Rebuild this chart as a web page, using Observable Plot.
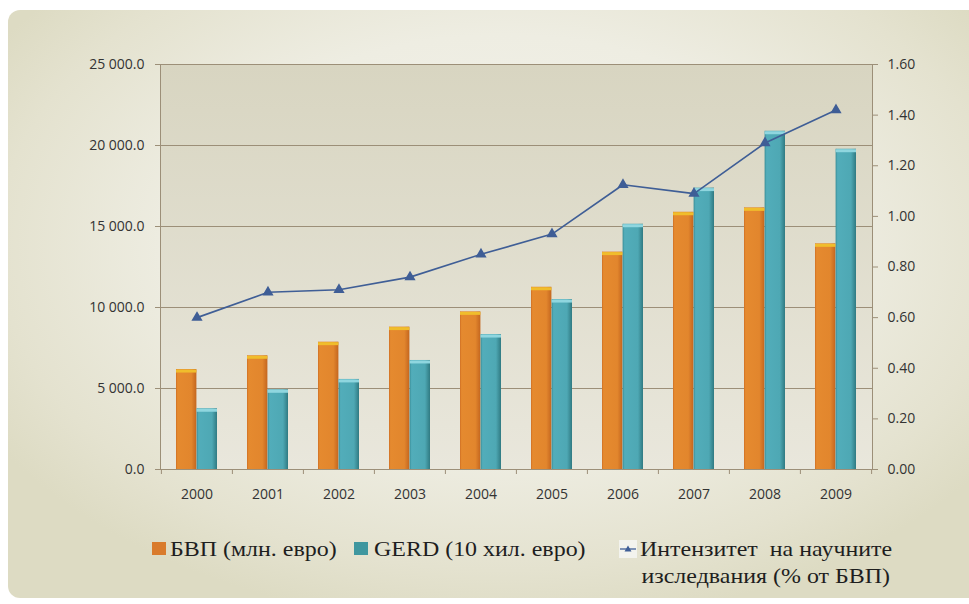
<!DOCTYPE html>
<html><head><meta charset="utf-8">
<script src="https://cdn.jsdelivr.net/npm/d3@7"></script>
<script src="https://cdn.jsdelivr.net/npm/@observablehq/plot@0.6"></script>
<style>
html,body{margin:0;padding:0;background:#fff;}
body{width:969px;height:604px;overflow:hidden;position:relative;}
#frame{position:absolute;left:8px;top:10px;width:990px;height:588px;border-radius:12px;
 background:radial-gradient(ellipse 60% 65% at 50% 40%, #f4f3ec 0%, #eeede2 55%, #e4e2cf 85%, #dddbc3 100%);}
#chart{position:absolute;left:0;top:0;width:969px;height:515px;}
#chart svg{position:absolute;left:0;top:0;overflow:visible;}
.lg{position:absolute;font-family:"Liberation Serif","DejaVu Serif",serif;font-size:21px;color:#1e1e1e;white-space:nowrap;line-height:22px;transform:scaleX(1.14);transform-origin:left center;}
.lg.r{transform-origin:right center;}
.sw{position:absolute;width:14px;height:13px;}
</style></head><body>
<div id="frame"></div>
<div id="chart"></div>
<div class="sw" style="left:152px;top:542px;background:#d97b2c;"></div>
<div class="lg" style="left:170px;top:538px;">БВП (млн. евро)</div>
<div class="sw" style="left:354px;top:542px;background:#3f979f;"></div>
<div class="lg" style="left:374px;top:538px;">GERD (10 хил. евро)</div>
<svg style="position:absolute;left:619px;top:540px" width="18" height="18"><rect x="0" y="0" width="18" height="18" fill="#f3f3ee"/><line x1="1" y1="9" x2="17" y2="9" stroke="#3f5e96" stroke-width="1.3"/><path d="M9,5.5 L12.5,11.5 L5.5,11.5Z" fill="#3f5e96"/></svg>
<div class="lg" style="left:640px;top:538px;">Интензитет&nbsp; на научните</div>
<div class="lg r" style="right:79px;top:565px;text-align:right;">изследвания (% от БВП)</div>
<script>
const years = ["2000","2001","2002","2003","2004","2005","2006","2007","2008","2009"];
const gdp = [6170, 7020, 7860, 8790, 9730, 11250, 13420, 15880, 16150, 13930];
const gerd = [3750, 4920, 5560, 6730, 8330, 10490, 15140, 17370, 20880, 19770];
const intensity = [0.60, 0.70, 0.71, 0.76, 0.85, 0.93, 1.125, 1.09, 1.29, 1.42];
const leftTicks = [0, 5000, 10000, 15000, 20000, 25000];
const rightTicks = [0, 0.2, 0.4, 0.6, 0.8, 1.0, 1.2, 1.4, 1.6];

const rows = years.map((year, i) => ({year, gdp: gdp[i], gerd: gerd[i], intensity: intensity[i]}));

const W = 969, H = 515, mL = 160, mR = 97, mT = 64, mB = 46;
const bw = (W - mL - mR) / years.length;
const gap = 15, barW = (bw - 2 * gap) / 2;
const leftFmt = d3.formatLocale({decimal: ".", thousands: " ", grouping: [3], currency: ["", ""]}).format(",.1f");
const rightFmt = d3.format(".2f");
const axisColor = "#9c8f78";
const font = {background: "transparent", fontFamily: "'Open Sans', sans-serif", fontSize: "14px", color: "#333"};

const p1 = Plot.plot({
  width: W, height: H, marginLeft: mL, marginRight: mR, marginTop: mT, marginBottom: mB,
  style: font,
  x: {type: "band", domain: years, padding: 0, axis: null, label: null},
  y: {domain: [0, 25000], axis: null, label: null},
  marks: [
    Plot.frame({fill: "url(#plotBg)", stroke: null}),
    Plot.gridY(leftTicks, {stroke: axisColor, strokeOpacity: 1, strokeWidth: 1}),
    Plot.barY(rows, {x: "year", y: "gdp", fill: "url(#gOrange)", insetLeft: gap, insetRight: gap + barW}),
    Plot.barY(rows, {x: "year", y: "gerd", fill: "url(#gTeal)", insetLeft: gap + barW, insetRight: gap}),
    Plot.tickY(rows, {x: "year", y: "gdp", stroke: "#f0bd2c", strokeWidth: 3, dy: 1.5, insetLeft: gap, insetRight: gap + barW}),
    Plot.tickY(rows, {x: "year", y: "gerd", stroke: "#8fd6df", strokeWidth: 3, dy: 1.5, insetLeft: gap + barW, insetRight: gap}),
    Plot.frame({stroke: axisColor, strokeWidth: 1}),
    Plot.axisY(leftTicks, {anchor: "left", label: null, tickSize: 5, tickPadding: 11, tickFormat: leftFmt, stroke: axisColor, fill: "#333"}),
    Plot.axisX({label: null, tickSize: 0, tickPadding: 20, fill: "#333"}),
    Plot.ruleX(years, {x: d => d, y1: 0, y2: 0, insetBottom: -5, dx: -bw / 2, stroke: axisColor}),
    Plot.ruleX(years.slice(-1), {x: d => d, y1: 0, y2: 0, insetBottom: -5, dx: bw / 2, stroke: axisColor})
  ]
});

const defs = `
<linearGradient id="plotBg" x1="0" y1="0" x2="0" y2="1">
  <stop offset="0" stop-color="#d8d5c1"/><stop offset="1" stop-color="#e9e7dc"/>
</linearGradient>
<linearGradient id="gOrange" x1="0" y1="0" x2="1" y2="0">
  <stop offset="0" stop-color="#cf6f24"/><stop offset="0.08" stop-color="#e58a2f"/>
  <stop offset="0.75" stop-color="#e2862d"/><stop offset="1" stop-color="#c4661f"/>
</linearGradient>
<linearGradient id="gTeal" x1="0" y1="0" x2="1" y2="0">
  <stop offset="0" stop-color="#3a8e98"/><stop offset="0.1" stop-color="#52adba"/>
  <stop offset="0.75" stop-color="#4ea8b4"/><stop offset="1" stop-color="#307a82"/>
</linearGradient>`;
d3.select(p1).insert("defs", ":first-child").html(defs);

const p2 = Plot.plot({
  width: W, height: H, marginLeft: mL, marginRight: mR, marginTop: mT, marginBottom: mB,
  style: font,
  x: {type: "band", domain: years, padding: 0, axis: null, label: null},
  y: {domain: [0, 1.6], axis: null, label: null},
  marks: [
    Plot.axisY(rightTicks, {anchor: "right", label: null, tickSize: 5, tickPadding: 10, tickFormat: rightFmt, stroke: axisColor, fill: "#333"}),
    Plot.line(rows, {x: "year", y: "intensity", stroke: "#3f5e96", strokeWidth: 1.6}),
    Plot.dot(rows, {x: "year", y: "intensity", symbol: "triangle", r: 3.2, fill: "#3f5e96", stroke: "#3f5e96"})
  ]
});

const chart = document.getElementById("chart");
chart.appendChild(p1);
chart.appendChild(p2);
</script>
</body></html>
